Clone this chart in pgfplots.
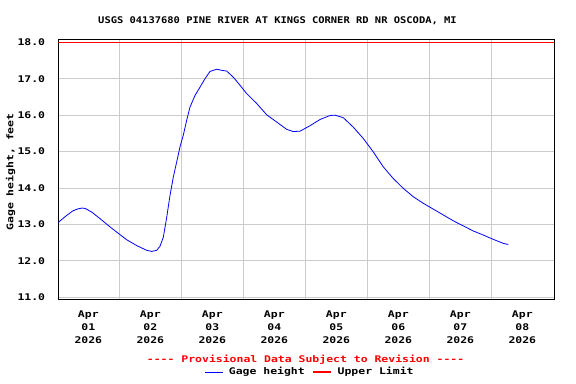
\documentclass[border=0pt]{standalone}
\usepackage{fontspec}
\setmonofont[FakeStretch=1.25]{DejaVu Sans Mono}
\setmainfont[FakeStretch=1.25,Ligatures=NoCommon]{DejaVu Sans Mono}
\newfontfamily\titlefont[FakeStretch=1.14]{DejaVu Sans Mono Bold}
\usepackage{pgfplots}
\pgfplotsset{compat=1.18}
\definecolor{gridgray}{RGB}{204,204,204}
\newcommand{\tf}[1]{\fontsize{#1}{13}\selectfont\ttfamily\bfseries}
\begin{document}
\begin{tikzpicture}
\useasboundingbox (0,0) rectangle (576bp,384bp);
\begin{axis}[
  at={(58.3bp,84.5bp)}, anchor=south west,
  scale only axis, width=496bp, height=260.2bp,
  xmin=-0.484, xmax=7.516, ymin=10.94, ymax=18.082,
  axis line style={black, line width=1.2bp},
  xtick={0,...,7},
  xticklabels={Apr\\01\\2026,Apr\\02\\2026,Apr\\03\\2026,Apr\\04\\2026,Apr\\05\\2026,Apr\\06\\2026,Apr\\07\\2026,Apr\\08\\2026},
  minor xtick={0.5,1.5,...,6.5},
  ytick={11,...,18},
  xmajorgrids=false, xminorgrids=true, ymajorgrids=true,
  grid style={gridgray, line width=0.9bp},
  minor grid style={gridgray, line width=0.9bp},
  major tick length=0pt, minor tick length=0pt,
  /pgf/number format/assume math mode=true,
  yticklabel={\pgfmathprintnumber[fixed,fixed zerofill,precision=1]{\tick}},
  tick label style={font=\tf{9.2}, inner sep=0pt},
  xticklabel style={align=center, anchor=north, yshift=-11bp},
  yticklabel style={anchor=east, xshift=-13bp},
  legend style={at={(0.5054,-0.2786)}, anchor=center, draw=none, fill=none,
    font=\tf{9.2}, inner sep=0pt, nodes={inner sep=0pt},
    /tikz/every odd column/.append style={column sep=6bp},
    /tikz/every even column/.append style={column sep=8bp}},
  legend columns=2,
  legend image code/.code={\draw[#1] (0bp,0bp)--(17.7bp,0bp);},
]
\addplot[blue, line width=0.8bp] coordinates {
(-0.484,13.05) (-0.468,13.08) (-0.348,13.25) (-0.242,13.38) (-0.161,13.43)
(-0.10,13.45) (-0.053,13.44) (0.055,13.34) (0.189,13.16) (0.323,12.97)
(0.458,12.79) (0.619,12.58) (0.781,12.42) (0.942,12.29) (1.023,12.26)
(1.103,12.29) (1.156,12.40) (1.210,12.65) (1.265,13.2) (1.318,13.8)
(1.371,14.3) (1.426,14.72) (1.479,15.13) (1.532,15.45) (1.587,15.86)
(1.640,16.22) (1.721,16.54) (1.802,16.77) (1.882,17.0) (1.963,17.20)
(2.071,17.26) (2.152,17.23) (2.232,17.21) (2.339,17.04) (2.447,16.82)
(2.555,16.59) (2.716,16.32) (2.877,16.01) (3.039,15.81) (3.200,15.61)
(3.306,15.55) (3.415,15.56) (3.576,15.71) (3.737,15.88) (3.898,15.99)
(3.979,16.00) (4.113,15.93) (4.274,15.67) (4.435,15.36) (4.597,14.99)
(4.758,14.58) (4.919,14.26) (5.081,13.99) (5.242,13.76) (5.403,13.58)
(5.565,13.42) (5.726,13.26) (5.887,13.10) (6.048,12.96) (6.210,12.82)
(6.371,12.71) (6.532,12.59) (6.694,12.48) (6.774,12.45)
};
\addlegendentry{Gage height}
\addplot[red, line width=1.2bp] coordinates {(-0.484,18) (7.516,18)};
\addlegendentry{Upper Limit}
\end{axis}
\node[anchor=base, font={\fontsize{9.2}{11}\selectfont\titlefont}] at (277.5bp,360bp) {USGS 04137680 PINE RIVER AT KINGS CORNER RD NR OSCODA, MI};
\node[rotate=90, font=\tf{9.2}] at (10.5bp,212bp) {Gage height, feet};
\node[anchor=base, font=\tf{9.2}, text=red] at (305.6bp,21.3bp) {---- Provisional Data Subject to Revision ----};
\end{tikzpicture}
\end{document}
